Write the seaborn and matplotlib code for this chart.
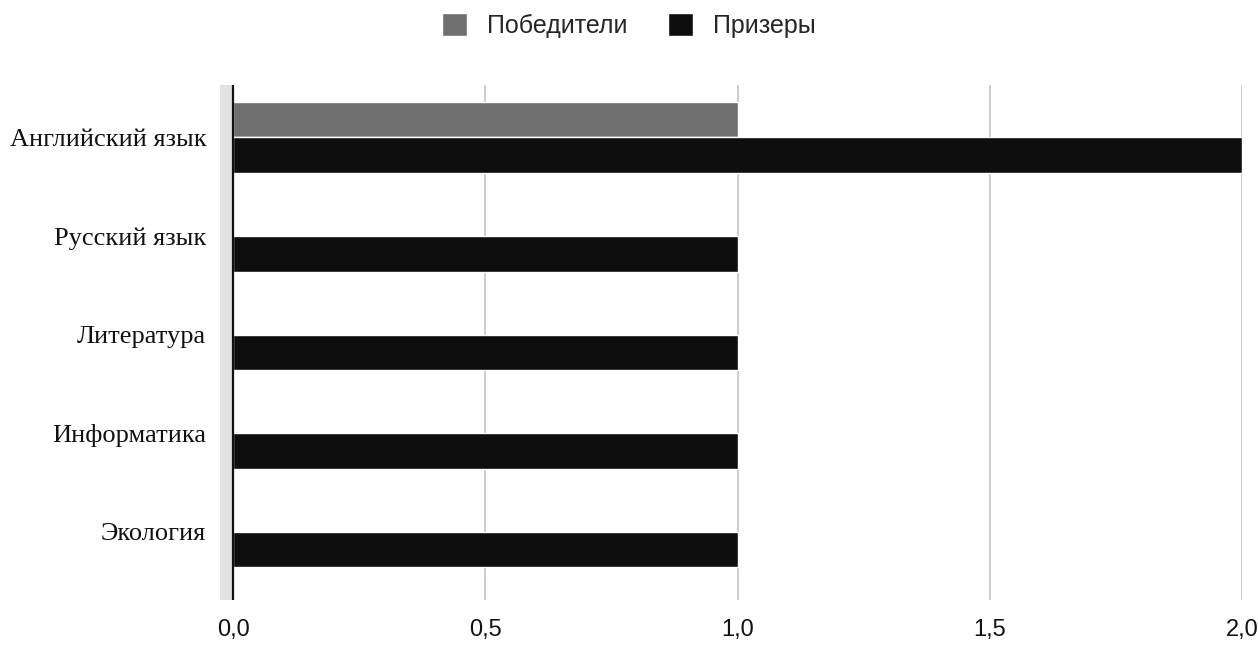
import matplotlib
matplotlib.use('Agg')
import matplotlib.pyplot as plt
import pandas as pd
import seaborn as sns

# Data
subjects = ['Английский язык', 'Русский язык', 'Литература', 'Информатика', 'Экология']
winners = [1, 0, 0, 0, 0]
prize_winners = [2, 1, 1, 1, 1]
series_names = ['Победители', 'Призеры']
x_ticks = [0.0, 0.5, 1.0, 1.5, 2.0]
x_tick_labels = ['0,0', '0,5', '1,0', '1,5', '2,0']

df = pd.DataFrame({
    'subject': subjects * 2,
    'series': [series_names[0]] * len(subjects) + [series_names[1]] * len(subjects),
    'value': winners + prize_winners,
})

sns.set_theme(style='white')
plt.rcParams['font.family'] = ['Liberation Sans', 'DejaVu Sans']

fig = plt.figure(figsize=(12.58, 6.46), dpi=100)
ax = fig.add_axes([0.1749, 0.0712, 0.8124, 0.797])

# light side wall of the pseudo-3D chart
ax.axvspan(-0.026, 0, color='#e2e2e2', zorder=0, lw=0)

sns.barplot(
    data=df, x='value', y='subject', hue='series', orient='h',
    palette=['#6f6f6f', '#0e0e0e'], width=0.72, saturation=1,
    ax=ax, zorder=3,
)

ax.set_xlim(-0.026, 2.0)
ax.set_ylim(4.69, -0.53)
ax.set_xticks(x_ticks)
ax.set_xticklabels(x_tick_labels, fontsize=17, color='#111111')
ax.tick_params(axis='x', length=0, pad=14)
ax.tick_params(axis='y', length=0, pad=10)
for lab in ax.get_yticklabels():
    lab.set_fontfamily(['Liberation Serif', 'DejaVu Serif'])
    lab.set_fontsize(19)
    lab.set_color('#111111')
ax.set_xlabel('')
ax.set_ylabel('')

for x in x_ticks[1:]:
    ax.axvline(x, color='#c4c4c4', lw=1.2, zorder=1)
ax.axvline(0, color='#111111', lw=1.6, zorder=4)

for s in ax.spines.values():
    s.set_visible(False)

handles, labels = ax.get_legend_handles_labels()
ax.get_legend().remove()
fig.legend(
    handles, labels, loc='center', bbox_to_anchor=(0.5, 0.96), ncol=2,
    frameon=False, fontsize=18, handlelength=1.0, handleheight=1.0,
    handletextpad=0.8, columnspacing=1.6,
)

fig.savefig('out.png', dpi=100)
